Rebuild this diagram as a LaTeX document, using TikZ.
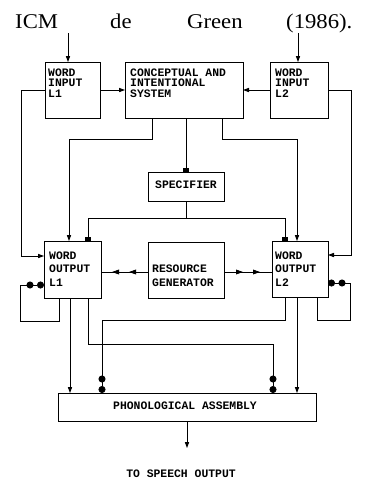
\documentclass[tikz,border=0pt]{standalone}
\usepackage{fontspec}
\setmonofont{Liberation Mono}
\newfontfamily\titlefont[FakeStretch=1.08]{Liberation Serif}
\usetikzlibrary{arrows.meta,decorations.markings}
\tikzset{
  box/.style={draw, line width=0.9pt, inner sep=0pt, outer sep=0pt},
  conn/.style={line width=0.8pt},
  arr/.style={conn, -{Triangle[length=6pt,width=4.2pt]}},
  sq/.style={conn, -{Square[length=4.5pt,width=6pt]}},
  dots/.style={conn, -{Circle[length=7pt,sep=3.5pt]Circle[length=7pt]}},
  lbl/.style={font=\ttfamily\bfseries\fontsize{11.4}{12}\selectfont, inner sep=0pt, anchor=base west},
  clbl/.style={lbl, anchor=base},
  ttl/.style={font=\titlefont\fontsize{21}{24}\selectfont, inner sep=0pt, anchor=base west},
  dbl/.style={conn, postaction={decorate}, decoration={markings,
     mark=at position 19pt with {\arrow{Triangle[length=7pt,width=4.8pt]}},
     mark=at position 36pt with {\arrow{Triangle[length=7pt,width=4.8pt]}}}}
}
\begin{document}
\begin{tikzpicture}[x=1pt,y=-1pt]
\useasboundingbox (0,0) rectangle (374,480);
% title
\node[ttl] (t1) at (15,28) {ICM};
\node[ttl] (t2) at (110,28) {de};
\node[ttl] (t3) at (187,28) {Green};
\node[ttl] (t4) at (286,28) {(1986).};
% boxes
\node[box, minimum width=55pt, minimum height=56pt] (wi1) at (72.5,90) {};
\node[box, minimum width=118pt, minimum height=56pt] (cis) at (184,90) {};
\node[box, minimum width=58pt, minimum height=56pt] (wi2) at (299,90) {};
\node[box, minimum width=76pt, minimum height=29pt] (spec) at (186,186.5) {};
\node[box, minimum width=57pt, minimum height=57pt] (wo1) at (72.5,269.5) {};
\node[box, minimum width=76pt, minimum height=56pt] (rg) at (186,270) {};
\node[box, minimum width=56pt, minimum height=56pt] (wo2) at (300,269) {};
\node[box, minimum width=258pt, minimum height=28pt] (pa) at (187,407) {};
% texts
\node[lbl] (a1) at (48,76) {WORD};
\node[lbl] (a2) at (48,86.5) {INPUT};
\node[lbl] (a3) at (48,97) {L1};
\node[lbl] (c1) at (130,76) {CONCEPTUAL AND};
\node[lbl] (c2) at (130,86.5) {INTENTIONAL};
\node[lbl] (c3) at (130,97) {SYSTEM};
\node[lbl] (b1t) at (275,76) {WORD};
\node[lbl] (b2t) at (275,86.5) {INPUT};
\node[lbl] (b3t) at (275,97) {L2};
\node[clbl] (s1) at (186,188) {SPECIFIER};
\node[lbl] (d1) at (49,259) {WORD};
\node[lbl] (d2) at (49,272.5) {OUTPUT};
\node[lbl] (d3) at (49,286) {L1};
\node[lbl] (r1) at (152,272.5) {RESOURCE};
\node[lbl] (r2) at (152,286) {GENERATOR};
\node[lbl] (e1) at (275,259) {WORD};
\node[lbl] (e2) at (275,272.5) {OUTPUT};
\node[lbl] (e3) at (275,286) {L2};
\node[clbl] (p1) at (185,409) {PHONOLOGICAL ASSEMBLY};
\node[clbl] (o1) at (181,477) {TO SPEECH OUTPUT};
% connectors
\coordinate (in1) at (68,33);
\draw[arr] (in1) -- (in1 |- wi1.north);
\coordinate (in2) at (298,33);
\draw[arr] (in2) -- (in2 |- wi2.north);
\draw[arr] (wi1.east) -- (cis.west);
\draw[arr] (wi2.west) -- (cis.east);
\draw[arr] (wi1.west) -- ++(-24,0) |- ([yshift=13.5pt]wo1.west);
\draw[arr] (wi2.east) -- ++(23,0) |- ([yshift=14pt]wo2.east);
\draw[arr] ([xshift=-32pt]cis.south) -- ++(0,21) -| ([xshift=-3.5pt]wo1.north);
\draw[sq] (spec.north |- cis.south) -- (spec.north);
\draw[arr] ([xshift=38pt]cis.south) -- ++(0,21) -| ([xshift=-3pt]wo2.north);
\draw[sq] (spec.south) -- ++(0,17) -| ([xshift=15.5pt]wo1.north);
\draw[sq] (spec.south) -- ++(0,17) -| ([xshift=-15pt]wo2.north);
\coordinate (rgl) at ([yshift=-2pt]rg.west);
\coordinate (rgr) at ([yshift=-2pt]rg.east);
\draw[dbl] (rgl) -- (rgl -| wo1.east);
\draw[dbl] (rgr) -- (rgr -| wo2.west);
\draw[dots] ([xshift=-13.5pt]wo1.south) -- ++(0,23) -- ++(-39,0) |- ([yshift=-15.5pt]wo1.west);
\draw[dots] ([xshift=17pt]wo2.south) -- ++(0,23) -- ++(33,0) |- ([yshift=-14pt]wo2.east);
\coordinate (bl) at ([xshift=-2.5pt]wo1.south);
\draw[arr] (bl) -- (bl |- pa.north);
\draw[dots] ([xshift=15.5pt]wo1.south) -- ++(0,46) -| ([xshift=86pt]pa.north);
\draw[dots] ([xshift=-15pt]wo2.south) -- ++(0,23) -| ([xshift=-85pt]pa.north);
\coordinate (br) at ([xshift=-3pt]wo2.south);
\draw[arr] (br) -- (br |- pa.north);
\coordinate (out) at (187,448);
\draw[arr] (pa.south) -- (out);
\end{tikzpicture}
\end{document}
